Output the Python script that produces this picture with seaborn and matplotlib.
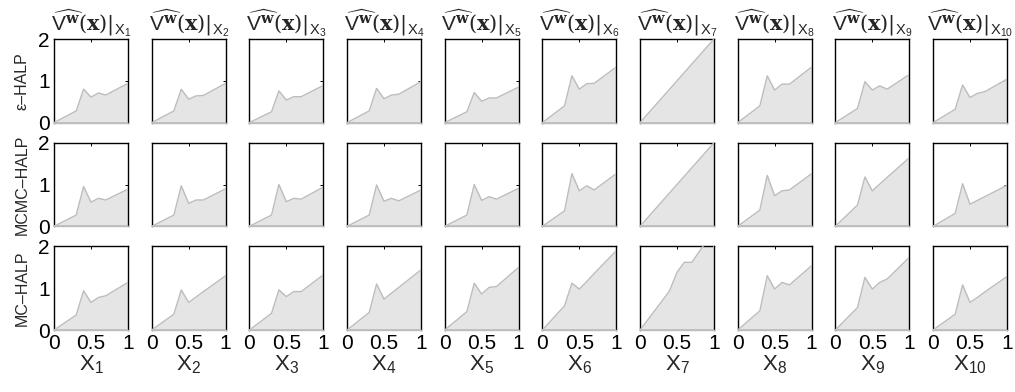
import matplotlib
matplotlib.use("Agg")
import matplotlib.pyplot as plt
import seaborn as sns

# x positions where the value functions were evaluated (same for every panel)
X_POINTS = [0.0, 0.3, 0.4, 0.5, 0.6, 0.7, 1.0]

METHODS = ["\u03b5\u2013HALP", "MCMC\u2013HALP", "MC\u2013HALP"]

# one list per state variable X1..X10
EPS_HALP = [
    [0, 0.28, 0.80, 0.61, 0.71, 0.66, 0.94],
    [0, 0.28, 0.80, 0.56, 0.64, 0.65, 0.94],
    [0, 0.26, 0.76, 0.54, 0.62, 0.62, 0.89],
    [0, 0.28, 0.82, 0.57, 0.66, 0.68, 0.98],
    [0, 0.26, 0.72, 0.51, 0.59, 0.59, 0.85],
    [0, 0.40, 1.12, 0.80, 0.93, 0.94, 1.33],
    [0, 0.60, 0.80, 1.00, 1.20, 1.40, 2.00],
    [0, 0.40, 1.12, 0.78, 0.92, 0.92, 1.33],
    [0, 0.34, 0.98, 0.78, 0.88, 0.80, 1.15],
    [0, 0.32, 0.90, 0.60, 0.70, 0.74, 1.04],
]
MCMC_HALP = [
    [0, 0.27, 0.95, 0.58, 0.67, 0.63, 0.89],
    [0, 0.27, 0.97, 0.55, 0.63, 0.63, 0.90],
    [0, 0.27, 1.00, 0.59, 0.67, 0.65, 0.94],
    [0, 0.27, 0.99, 0.60, 0.67, 0.61, 0.87],
    [0, 0.27, 1.00, 0.62, 0.71, 0.65, 0.91],
    [0, 0.37, 1.26, 0.85, 0.97, 0.87, 1.26],
    [0, 0.60, 0.80, 1.00, 1.20, 1.40, 2.00],
    [0, 0.39, 1.22, 0.73, 0.85, 0.87, 1.26],
    [0, 0.51, 1.18, 0.85, 1.01, 1.17, 1.64],
    [0, 0.31, 1.02, 0.53, 0.62, 0.71, 0.98],
]
MC_HALP = [
    [0, 0.36, 0.94, 0.66, 0.78, 0.82, 1.14],
    [0, 0.38, 0.96, 0.66, 0.79, 0.92, 1.30],
    [0, 0.40, 0.96, 0.80, 0.92, 0.92, 1.32],
    [0, 0.42, 1.10, 0.74, 0.88, 1.02, 1.44],
    [0, 0.44, 1.12, 0.86, 1.02, 1.04, 1.50],
    [0, 0.58, 1.12, 0.98, 1.16, 1.35, 1.90],
    [0, 0.70, 0.94, 1.38, 1.62, 1.62, 2.38],
    [0, 0.46, 1.30, 0.98, 1.14, 1.08, 1.54],
    [0, 0.54, 1.26, 0.98, 1.14, 1.22, 1.74],
    [0, 0.38, 1.08, 0.66, 0.78, 0.91, 1.28],
]
VALUES = [EPS_HALP, MCMC_HALP, MC_HALP]
X_TICKS = [0, 0.5, 1]
X_TICK_LABELS = ["0", "0.5", "1"]
Y_TICKS = [0, 1, 2]

sns.set_theme(style="white")
plt.rcParams["font.family"] = ["Liberation Sans", "DejaVu Sans"]
plt.rcParams["mathtext.fontset"] = "custom"
plt.rcParams["mathtext.rm"] = "DejaVu Serif"
plt.rcParams["mathtext.sf"] = "Liberation Sans"
plt.rcParams["mathtext.bf"] = "DejaVu Serif:bold"
plt.rcParams["mathtext.it"] = "DejaVu Serif:italic"

fill_col = "#e5e5e5"
edge_col = "#bcbcbc"

fig, axes = plt.subplots(3, 10, figsize=(10.15, 3.92), dpi=100,
                         sharex=True, sharey=True)
fig.subplots_adjust(left=0.0532, right=0.9921, bottom=0.158, top=0.9005,
                    wspace=0.32, hspace=0.24)

for r, method in enumerate(METHODS):
    for c in range(10):
        ax = axes[r, c]
        ys = VALUES[r][c]
        ax.fill_between(X_POINTS, 0, ys, color=fill_col, linewidth=0, zorder=1)
        sns.lineplot(x=X_POINTS, y=ys, color=edge_col, linewidth=1.0,
                     ax=ax, zorder=3)
        # closing edges of the filled patch
        ax.plot([X_POINTS[0], X_POINTS[-1]], [0, 0], color=edge_col, lw=1.2, zorder=3)
        ax.plot([X_POINTS[-1], X_POINTS[-1]], [0, ys[-1]], color=edge_col, lw=1.2, zorder=3)
        ax.set_xlim(0, 1)
        ax.set_ylim(0, 2)
        for side in ["left", "top", "right"]:
            ax.spines[side].set_color("black")
            ax.spines[side].set_linewidth(1.0)
        ax.spines["bottom"].set_color(edge_col)
        ax.spines["bottom"].set_linewidth(1.0)
        ax.tick_params(direction="in", length=2.5, width=0.7, top=True, right=True,
                       labelsize=15, pad=3, colors="black")
        ax.set_xticks(X_TICKS)
        ax.set_yticks(Y_TICKS)
        ax.set_xticklabels(X_TICK_LABELS)
        if r == 0:
            ax.set_title(r"$\widehat{\mathsf{V}^{\mathbf{w}}}(\mathbf{x})|_{\mathsf{X}_{\mathsf{%d}}}$" % (c + 1),
                         fontsize=15, pad=5)
        if r == 2:
            ax.set_xlabel(r"$\mathsf{X}_{\mathsf{%d}}$" % (c + 1), fontsize=16, labelpad=0)
        else:
            ax.set_xlabel("")
        if c == 0:
            ax.set_ylabel(method, fontsize=11.5, labelpad=6)
        else:
            ax.set_ylabel("")

fig.savefig("out.png", dpi=100)
